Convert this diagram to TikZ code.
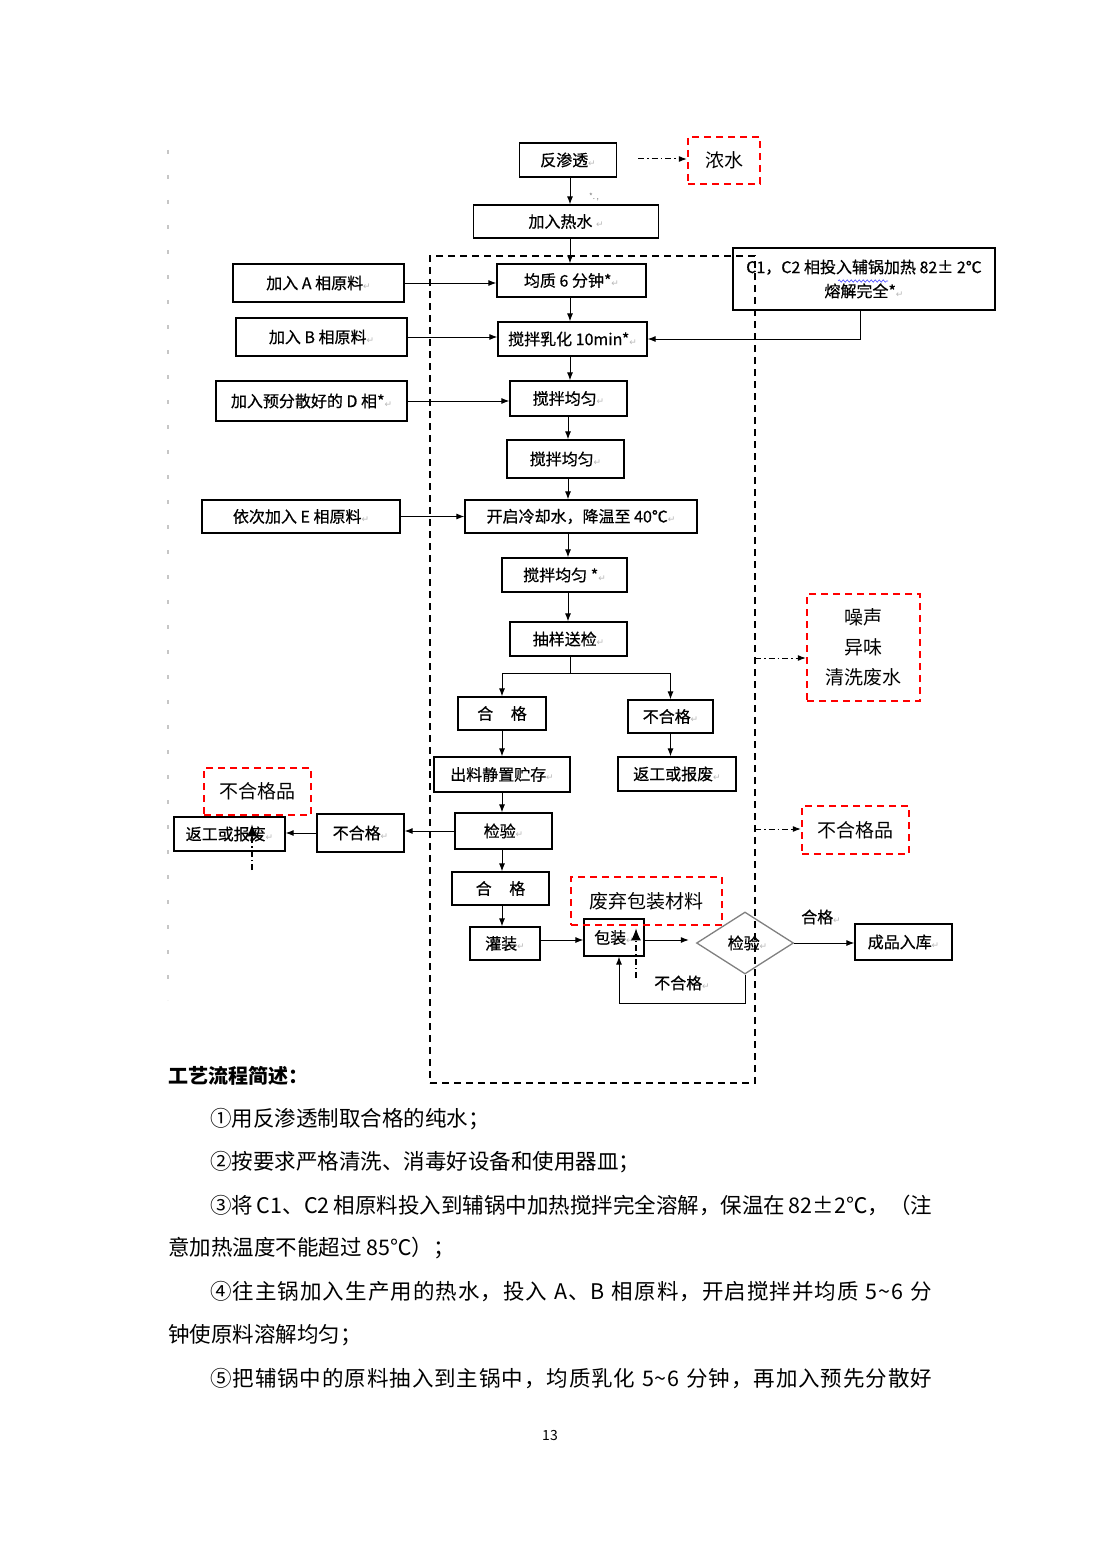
\documentclass[tikz,border=0pt]{standalone}
\usepackage{fontspec}
\usepackage{graphicx}
\usetikzlibrary{arrows.meta,shapes.geometric,decorations.pathmorphing}
\setmainfont{Noto Sans CJK SC}
\newfontfamily\boxfont[FakeBold=0.6]{Noto Sans CJK SC}
\newfontfamily\dv{DejaVu Sans}
\newcommand\rt{{\dv\color{gray!55}\fontsize{9}{9}\selectfont ↵}}
\def\spA#1{#1\spB}
\def\spB#1{\ifx\relax#1\else\hskip0pt plus 1fil#1\expandafter\spB\fi}
\newcommand\jline[2]{\makebox[#1][s]{\spA#2\relax}}
\begin{document}
\begin{tikzpicture}[x=1pt,y=-1pt,
  box/.style={draw, line width=1.2pt, inner sep=0pt, align=center, font=\boxfont\fontsize{16}{24}\selectfont},
  redbox/.style={draw=red, line width=2.4pt, dash pattern=on 7pt off 5pt, inner sep=0pt, align=center, font=\fontsize{19}{30}\selectfont},
  arr/.style={-{Latex[length=8pt,width=6pt]}, line width=1pt},
  bigarr/.style={-{Latex[length=12pt,width=10pt]}, line width=1.2pt},
  dd/.style={dash pattern=on 6pt off 3pt on 1.5pt off 3pt, line width=1.2pt},
  zonestyle/.style={draw, line width=1.8pt, dash pattern=on 7pt off 5pt, inner sep=0pt},
  lbl/.style={inner sep=0pt, font=\boxfont\fontsize{16}{18}\selectfont},
  para/.style={inner sep=0pt, anchor=base west, font=\fontsize{21.5}{26}\selectfont}]
\useasboundingbox (0,0) rectangle (1100,1557);
\fill[white] (0,0) rectangle (1100,1557);
% margin marks
\draw[gray!45, line width=1.3pt, dash pattern=on 4pt off 21pt] (168,150) -- (168,1000);

% main column
\node[box, minimum width=97pt, minimum height=34pt] (ro) at (568,160) {反渗透\rt};
\node[box, minimum width=185pt, minimum height=33pt] (rs) at (566,221.5) {加入热水 \rt};
\node[box, minimum width=149pt, minimum height=33pt] (jz) at (571.5,280.5) {均质 6 分钟*\rt};
\node[box, minimum width=171pt, minimum height=38pt] (a) at (318.5,283) {加入 A 相原料\rt};
\node[box, minimum width=262pt, minimum height=62pt] (c) at (864,279) {C1，C2 相投入辅锅加热 82± 2℃\\熔解完全*\rt};
\node[box, minimum width=171pt, minimum height=38pt] (b) at (321.5,337) {加入 B 相原料\rt};
\node[box, minimum width=149pt, minimum height=34pt] (rh) at (572.5,339) {搅拌乳化 10min*\rt};
\node[box, minimum width=191pt, minimum height=40pt] (d) at (311.5,401) {加入预分散好的 D 相*\rt};
\node[box, minimum width=117pt, minimum height=35pt] (jy1) at (568.5,398.5) {搅拌均匀\rt};
\node[box, minimum width=117pt, minimum height=38pt] (jy2) at (565.5,459) {搅拌均匀\rt};
\node[box, minimum width=198pt, minimum height=33pt] (e) at (301,516.5) {依次加入 E 相原料\rt};
\node[box, minimum width=232pt, minimum height=33pt] (lq) at (581,516.5) {开启冷却水，降温至 40℃\rt};
\node[box, minimum width=125pt, minimum height=34pt] (jy3) at (564.5,575) {搅拌均匀 *\rt};
\node[box, minimum width=117pt, minimum height=34pt] (cy) at (568.5,639) {抽样送检\rt};
\node[box, minimum width=88pt, minimum height=33pt] (hg1) at (502,713.5) {合\hspace{1.1em}格};
\node[box, minimum width=85pt, minimum height=33pt] (bhg1) at (670.5,716.5) {不合格\rt};
\node[box, minimum width=136pt, minimum height=35pt] (cl) at (502,774.5) {出料静置贮存\rt};
\node[box, minimum width=118pt, minimum height=34pt] (fg1) at (677,774) {返工或报废\rt};
\node[box, minimum width=97pt, minimum height=36pt] (jyan) at (503.5,831) {检验\rt};
\node[box, minimum width=87pt, minimum height=38pt] (bhg2) at (360.5,833) {不合格\rt};
\node[box, minimum width=111pt, minimum height=34pt] (fg2) at (229.5,834) {返工或报废\rt};
\node[box, minimum width=97pt, minimum height=33pt] (hg2) at (500.5,888.5) {合\hspace{1.1em}格};
\node[box, minimum width=70pt, minimum height=33pt] (gz) at (505,943.5) {灌装\rt};
\node[box, minimum width=60pt, minimum height=37pt] (bz) at (614,937.5) {包装\rt};
\node[draw=gray, line width=1.3pt, shape=diamond, inner sep=0pt, minimum width=97pt, minimum height=62pt, font=\boxfont\fontsize{16}{18}\selectfont] (dia) at (745,943) {\raisebox{-3pt}{\hspace{5pt}检验\rt}};
\node[box, minimum width=97pt, minimum height=36pt] (cp) at (903.5,942) {成品入库\rt};

% wavy underline
\draw[blue!70, line width=0.6pt, decorate, decoration={snake, amplitude=1.2pt, segment length=4pt}] (838,281) -- (888,281);
\node[inner sep=0pt, font=\fontsize{8}{8}\selectfont, text=gray] (star) at (594,197) {*.\,,};

% connectors
\draw[arr] (ro.south -| 570,0) -- (rs.north -| 570,0);
\draw[arr] (rs.south -| 570,0) -- (jz.north -| 570,0);
\draw[arr] (a.east) -- (a.east -| jz.west);
\draw[arr] (jz.south -| 570,0) -- (rh.north -| 570,0);
\draw[arr] (b.east) -- (b.east -| rh.west);
\draw[arr] ([xshift=-4pt]c.south) |- (rh.east);
\draw[arr] (rh.south -| 570,0) -- (jy1.north -| 570,0);
\draw[arr] (d.east) -- (d.east -| jy1.west);
\draw[arr] (jy1.south -| 568,0) -- (jy2.north -| 568,0);
\draw[arr] (jy2.south -| 568,0) -- (lq.north -| 568,0);
\draw[arr] (e.east) -- (e.east -| lq.west);
\draw[arr] (lq.south -| 568,0) -- (jy3.north -| 568,0);
\draw[arr] (jy3.south -| 568,0) -- (cy.north -| 568,0);
\coordinate (sp) at (570,673);
\draw[line width=1pt] (cy.south -| sp) -- (sp);
\draw[arr] (sp) -| (hg1.north);
\draw[arr] (sp) -| (bhg1.north);
\draw[arr] (hg1.south) -- (cl.north -| hg1.south);
\draw[arr] (bhg1.south) -- (fg1.north -| bhg1.south);
\draw[arr] (cl.south) -- (jyan.north -| cl.south);
\draw[arr] (jyan.west) -- (jyan.west -| bhg2.east);
\draw[arr] (bhg2.west) -- (bhg2.west -| fg2.east);
\draw[arr] (jyan.south -| 502,0) -- (hg2.north -| 502,0);
\draw[arr] (hg2.south -| 502,0) -- (gz.north -| 502,0);
\coordinate (g1) at (0,940);
\draw[arr] (gz.east |- g1) -- (bz.west |- g1);
\draw[arr, shorten >=7pt] (bz.east |- g1) -- (dia.west |- g1);
\draw[arr] (dia.east) -- (dia.east -| cp.west);
\node[lbl] (hgl) at (821,917) {合格\rt};
\coordinate (fb) at (619,1003);
\draw[arr] (dia.south) -- (dia.south |- fb) -- (fb) -- (fb |- bz.south);
\node[lbl] (bhgl) at (682,983) {不合格\rt};

% dashed zone
\node[zonestyle, minimum width=325pt, minimum height=827pt] (zone) at (592.5,669.5) {};

% red boxes
\node[redbox, minimum width=72pt, minimum height=47pt] (ns) at (724,160.5) {浓水};
\node[redbox, minimum width=113pt, minimum height=107pt] (zs) at (863.5,647.5) {噪声\\异味\\清洗废水};
\node[redbox, minimum width=107pt, minimum height=48pt] (bhgp2) at (855.5,830) {不合格品};
\node[redbox, minimum width=107pt, minimum height=47pt] (bhgp1) at (257.5,791.5) {不合格品};
\node[redbox, minimum width=151pt, minimum height=48pt] (fq) at (646.5,901) {废弃包装材料};

% dash-dot emission arrows
\coordinate (e1) at (638,159);
\draw[dd, arr] (e1) -- (ns.west |- e1);
\coordinate (e2) at (755,658);
\draw[dd, arr] (e2) -- (zs.west |- e2);
\coordinate (e3) at (755,829);
\draw[dd, arr] (e3) -- (bhgp2.west |- e3);
\coordinate (u1) at (252,870);
\draw[dd, bigarr, shorten >=8pt] (u1) -- (u1 |- fg2.north);
\coordinate (u2) at (636,978);
\draw[dd, bigarr, shorten >=10pt] (u2) -- (u2 |- bz.north);

% text
\node[para, font=\fontsize{20}{24}\selectfont\bfseries] (h) at (168,1083) {工艺流程简述：};
\node[para] (p1) at (210,1126) {①用反渗透制取合格的纯水；};
\node[para] (p2) at (210,1169) {②按要求严格清洗、消毒好设备和使用器皿；};
\node[para] (p3) at (210,1213) {\jline{722pt}{③将\ C1、C2\ 相原料投入到辅锅中加热搅拌完全溶解，保温在\ 82±2℃，（注}};
\node[para] (p3b) at (168,1255) {意加热温度不能超过 85℃）；};
\node[para] (p4) at (210,1299) {\jline{722pt}{④往主锅加入生产用的热水，投入\ A、B\ 相原料，开启搅拌并均质\ 5\textasciitilde6\ 分}};
\node[para] (p4b) at (168,1342) {钟使原料溶解均匀；};
\node[para] (p5) at (210,1386) {\jline{722pt}{⑤把辅锅中的原料抽入到主锅中，均质乳化\ 5\textasciitilde6\ 分钟，再加入预先分散好}};
\node[inner sep=0pt, font=\fontsize{14}{16}\selectfont] (pg) at (550,1435) {13};
\end{tikzpicture}
\end{document}
